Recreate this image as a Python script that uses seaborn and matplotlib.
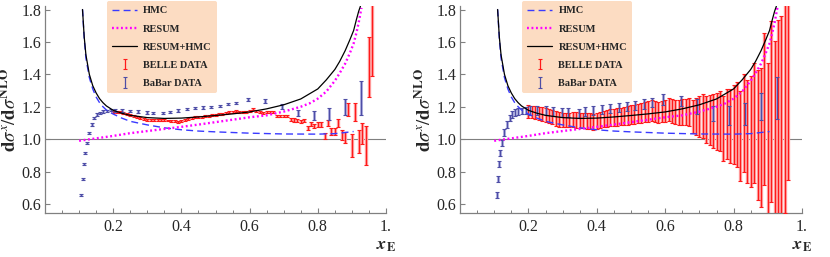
import numpy as np
import matplotlib
matplotlib.use("Agg")
import matplotlib.pyplot as plt
import seaborn as sns
from matplotlib.ticker import MultipleLocator

sns.set_style("ticks")
plt.rcParams['font.family'] = ['Liberation Serif', 'DejaVu Serif']
plt.rcParams['mathtext.fontset'] = 'stix'

# ---- theory curves ----
hmc_x = [0.110, 0.115, 0.120, 0.130, 0.140, 0.150, 0.160, 0.170, 0.180, 0.200, 0.225,
         0.250, 0.300, 0.350, 0.400, 0.450, 0.500, 0.600, 0.700, 0.800, 0.850, 0.905]
hmc_y = [1.80, 1.62, 1.50, 1.38, 1.31, 1.26, 1.225, 1.20, 1.18, 1.155, 1.13,
         1.11, 1.088, 1.07, 1.058, 1.05, 1.045, 1.037, 1.032, 1.031, 1.034, 1.047]

resum_x = [0.100, 0.150, 0.200, 0.250, 0.300, 0.350, 0.400, 0.450, 0.500, 0.550, 0.600,
           0.650, 0.700, 0.750, 0.777, 0.800, 0.825, 0.850, 0.864, 0.880, 0.894, 0.905,
           0.913, 0.920, 0.928]
resum_y = [0.99, 1.005, 1.02, 1.037, 1.05, 1.063, 1.076, 1.09, 1.105, 1.12, 1.135,
           1.147, 1.17, 1.20, 1.222, 1.25, 1.294, 1.36, 1.407, 1.465, 1.531, 1.59,
           1.654, 1.72, 1.81]

tot_x = [0.110, 0.115, 0.120, 0.130, 0.140, 0.150, 0.160, 0.170, 0.180, 0.200, 0.225,
         0.250, 0.300, 0.350, 0.400, 0.450, 0.500, 0.550, 0.600, 0.650, 0.700, 0.750,
         0.800, 0.825, 0.850, 0.864, 0.880, 0.894, 0.905, 0.913, 0.920, 0.925]
tot_y = [1.80, 1.63, 1.52, 1.40, 1.33, 1.285, 1.25, 1.225, 1.205, 1.178, 1.16,
         1.147, 1.133, 1.128, 1.13, 1.137, 1.146, 1.156, 1.168, 1.187, 1.212, 1.248,
         1.31, 1.366, 1.43, 1.479, 1.545, 1.613, 1.67, 1.736, 1.79, 1.82]

# ---- BELLE data ----
belle_x = [0.20, 0.21, 0.22, 0.23, 0.24, 0.25, 0.26, 0.27, 0.28, 0.29,
           0.30, 0.31, 0.32, 0.33, 0.34, 0.35, 0.36, 0.37, 0.38, 0.39,
           0.40, 0.41, 0.42, 0.43, 0.44, 0.45, 0.46, 0.47, 0.48, 0.49,
           0.50, 0.51, 0.52, 0.53, 0.54, 0.55, 0.56, 0.57, 0.58, 0.59,
           0.60, 0.61, 0.62, 0.63, 0.64, 0.65, 0.66, 0.67, 0.68, 0.69,
           0.70, 0.71, 0.72, 0.73, 0.74, 0.75, 0.76, 0.77, 0.78, 0.79,
           0.80, 0.81, 0.82, 0.83, 0.84, 0.85, 0.86, 0.87, 0.88, 0.89,
           0.90, 0.91, 0.92, 0.93, 0.94, 0.95, 0.96]
belle_y = [1.170, 1.168, 1.165, 1.160, 1.155, 1.150, 1.142, 1.135, 1.128, 1.122,
           1.119, 1.118, 1.118, 1.119, 1.118, 1.116, 1.115, 1.113, 1.110, 1.108,
           1.112, 1.120, 1.125, 1.128, 1.134, 1.136, 1.138, 1.140, 1.143, 1.147,
           1.150, 1.153, 1.157, 1.160, 1.165, 1.170, 1.175, 1.168, 1.165, 1.170,
           1.175, 1.185, 1.174, 1.170, 1.164, 1.168, 1.170, 1.168, 1.140, 1.140,
           1.140, 1.142, 1.123, 1.118, 1.113, 1.109, 1.115, 1.068, 1.094, 1.080,
           1.090, 1.090, 1.020, 1.100, 1.047, 1.047, 1.100, 1.026, 1.010, 1.185,
           0.960, 1.170, 0.985, 1.035, 0.960, 1.445, 1.750]
belle_err_left = [0.006] * 51 + [0.008, 0.009, 0.010, 0.010, 0.011, 0.011, 0.012, 0.012, 0.013,
                                 0.013, 0.014, 0.020, 0.020, 0.020, 0.022, 0.025, 0.030, 0.036, 0.040,
                                 0.070, 0.055, 0.070, 0.065, 0.120, 0.185, 0.360]
belle_err_right = [0.038, 0.039, 0.040, 0.040, 0.041, 0.042, 0.042, 0.043, 0.044, 0.045,
                   0.045, 0.046, 0.046, 0.047, 0.047, 0.048, 0.048, 0.048, 0.049, 0.049,
                   0.050, 0.050, 0.051, 0.052, 0.052, 0.053, 0.054, 0.055, 0.056, 0.057,
                   0.058, 0.059, 0.060, 0.061, 0.062, 0.063, 0.064, 0.065, 0.066, 0.067,
                   0.068, 0.070, 0.072, 0.074, 0.076, 0.078, 0.080, 0.085, 0.100, 0.115,
                   0.125, 0.135, 0.146, 0.155, 0.165, 0.175, 0.185, 0.200, 0.215, 0.230,
                   0.245, 0.262, 0.280, 0.300, 0.320, 0.345, 0.370, 0.400, 0.430, 0.470,
                   0.510, 0.560, 0.620, 0.700, 0.800, 0.900, 1.000]

# ---- BaBar data ----
babar_x = [0.107, 0.112, 0.115, 0.118, 0.124, 0.130, 0.137, 0.145, 0.153, 0.161, 0.171,
           0.181, 0.193, 0.205, 0.225, 0.250, 0.273, 0.298, 0.317, 0.347, 0.366, 0.390,
           0.415, 0.439, 0.464, 0.488, 0.512, 0.537, 0.561, 0.595,
           0.645, 0.694, 0.741, 0.788, 0.834, 0.880, 0.928]
babar_y = [0.656, 0.755, 0.846, 0.914, 0.975, 1.04, 1.09, 1.13, 1.152, 1.163, 1.17,
           1.175, 1.178, 1.177, 1.177, 1.175, 1.17, 1.165, 1.162, 1.16, 1.168, 1.177,
           1.185, 1.19, 1.196, 1.2, 1.206, 1.217, 1.225, 1.245,
           1.236, 1.203, 1.16, 1.146, 1.155, 1.2, 1.255]
babar_err_left = [0.007] * 30 + [0.012, 0.015, 0.02, 0.025, 0.035, 0.05, 0.105]
babar_err_right = [0.02] * 13 + [0.028] * 16 + [0.035, 0.03, 0.046, 0.046, 0.056, 0.068, 0.082, 0.13]

panels = [(belle_err_left, babar_err_left), (belle_err_right, babar_err_right)]

fig = plt.figure(figsize=(8.3, 2.57), dpi=100)
axes = [fig.add_axes([45 / 830, 44 / 257, 341 / 830, 207 / 257]),
        fig.add_axes([460 / 830, 44 / 257, 342 / 830, 207 / 257])]

for ax, (b_err, bb_err) in zip(axes, panels):
    ax.axhline(1.0, color='#7f7f7f', lw=0.8, zorder=1)
    sns.lineplot(x=hmc_x, y=hmc_y, ax=ax, color='#3a3aff', lw=1.0, dashes=(5, 3),
                 label='HMC', zorder=4)
    sns.lineplot(x=resum_x, y=resum_y, ax=ax, color='#ff00ff', lw=1.7, dashes=(0.8, 1.1),
                 label='RESUM', zorder=4)
    sns.lineplot(x=tot_x, y=tot_y, ax=ax, color='black', lw=0.9,
                 label='RESUM+HMC', zorder=5)
    ax.errorbar(belle_x, belle_y, yerr=b_err, fmt='none', ecolor='#ffa8a8', elinewidth=2.4, zorder=2)
    ax.errorbar(belle_x, belle_y, yerr=b_err, fmt='none', ecolor='#ff1a1a', elinewidth=0.9,
                capsize=1.2, capthick=0.8, label='BELLE DATA', zorder=3)
    ax.errorbar(babar_x, babar_y, yerr=bb_err, fmt='none', ecolor='#b8b8e4', elinewidth=2.2, zorder=2)
    ax.errorbar(babar_x, babar_y, yerr=bb_err, fmt='none', ecolor='#4e4ea6', elinewidth=0.9,
                capsize=1.2, capthick=0.8, label='BaBar DATA', zorder=3)

    ax.set_xlim(0, 1.0)
    ax.set_ylim(0.5444, 1.8216)
    ax.set_xticks([0.2, 0.4, 0.6, 0.8, 1.0])
    ax.set_xticklabels(['0.2', '0.4', '0.6', '0.8', '1.'])
    ax.xaxis.set_minor_locator(MultipleLocator(0.05))
    ax.set_yticks([0.6, 0.8, 1.0, 1.2, 1.4, 1.6, 1.8])
    ax.set_yticklabels(['0.6', '0.8', '1.0', '1.2', '1.4', '1.6', '1.8'])
    ax.tick_params(axis='both', which='major', direction='in', length=3.5, width=0.8,
                   color='#808080', labelsize=11.5, pad=2.5)
    ax.tick_params(axis='x', which='minor', direction='in', length=2, width=0.7, color='#808080')
    ax.tick_params(axis='x', which='major', pad=4)
    for s in ['top', 'right']:
        ax.spines[s].set_visible(False)
    for s in ['left', 'bottom']:
        ax.spines[s].set_color('#808080')
        ax.spines[s].set_linewidth(0.9)
    ax.set_xlabel('')
    ax.set_ylabel(r'$\mathbf{d}\sigma^{x}/\mathbf{d}\sigma^{\mathbf{NLO}}$', fontsize=13.5, labelpad=1)
    ax.text(1.03, -0.115, r'$\mathbfit{x}_{\mathbf{E}}$', transform=ax.transAxes,
            fontsize=13, ha='right', va='top')

    h, l = ax.get_legend_handles_labels()
    leg = ax.legend(h, l, loc='upper left', bbox_to_anchor=(0.166, 1.05),
                    prop={'family': 'Liberation Serif', 'weight': 'bold', 'size': 7.5},
                    facecolor='#fcdcc2', edgecolor='none', framealpha=1, fancybox=True,
                    handlelength=2.4, handletextpad=0.6, labelspacing=0.85,
                    borderpad=0.5)

fig.savefig('out.png', dpi=100)
